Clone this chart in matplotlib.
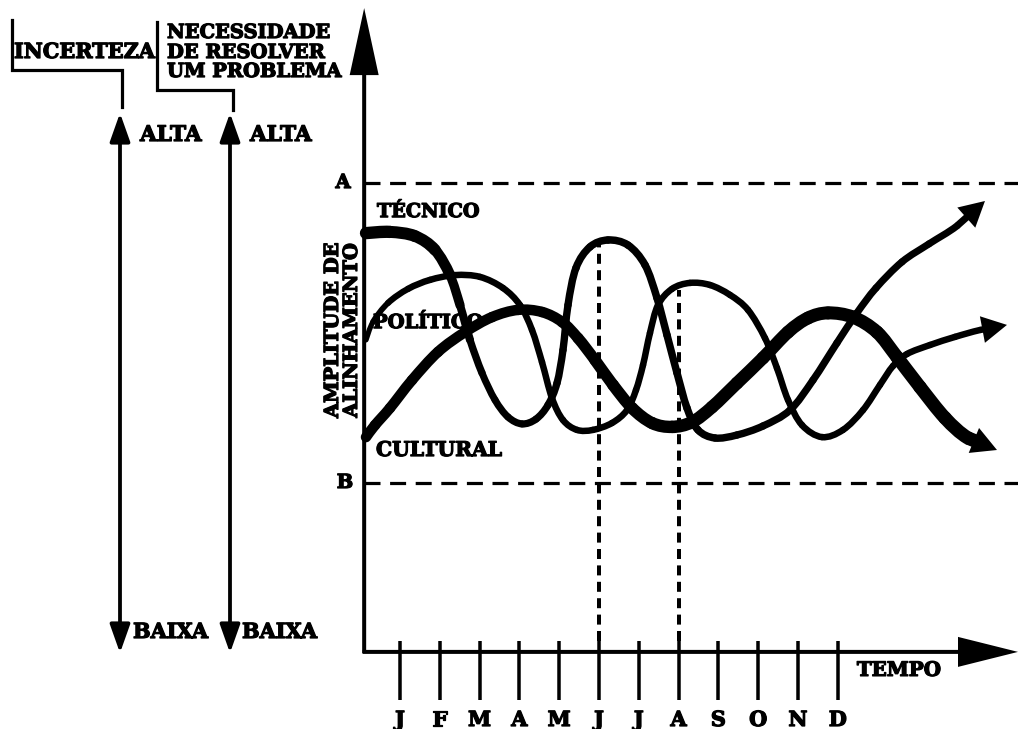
import numpy as np
import matplotlib
matplotlib.use('Agg')
import matplotlib.pyplot as plt
import matplotlib.patheffects as pe
from matplotlib.path import Path
from matplotlib.patches import PathPatch, FancyArrowPatch, ArrowStyle

# ---------------- data (months on x, alignment amplitude on y: B = 0, A = 1) -------------
months = ['J', 'F', 'M', 'A', 'M', 'J', 'J', 'A', 'S', 'O', 'N', 'D']
month_pos = np.arange(1, 13)
level_labels = ['A', 'B']
level_values = [1.0, 0.0]

tecnico_x = [0.146, 0.749, 1.377, 1.879, 2.256, 2.508, 2.759, 3.060, 3.387, 3.714,
             4.065, 4.417, 4.719, 4.945, 5.095, 5.221, 5.422, 5.774, 6.226, 6.729,
             7.156, 7.457, 7.709, 7.960, 8.211, 8.487, 8.915, 9.467, 10.121, 10.799,
             11.377, 11.980, 12.482, 12.960, 13.613, 14.291, 14.995, 15.698]
tecnico_y = [0.833, 0.837, 0.823, 0.777, 0.693, 0.593, 0.477, 0.367, 0.277, 0.220,
             0.197, 0.213, 0.260, 0.333, 0.443, 0.593, 0.717, 0.787, 0.810, 0.793,
             0.727, 0.617, 0.493, 0.367, 0.250, 0.177, 0.150, 0.160, 0.190, 0.243,
             0.343, 0.467, 0.567, 0.650, 0.737, 0.797, 0.857, 0.940]

politico_x = [0.146, 0.322, 0.698, 1.201, 1.754, 2.382, 3.010, 3.588, 4.015, 4.317,
              4.568, 4.819, 5.095, 5.447, 5.849, 6.327, 6.704, 6.930, 7.106, 7.281,
              7.482, 7.834, 8.286, 8.789, 9.291, 9.744, 10.171, 10.472, 10.749, 11.101,
              11.603, 12.131, 12.633, 13.060, 13.387, 13.739, 14.317, 14.945, 15.573, 16.251]
politico_y = [0.477, 0.537, 0.600, 0.647, 0.677, 0.693, 0.687, 0.650, 0.593, 0.510,
              0.403, 0.283, 0.210, 0.177, 0.177, 0.200, 0.243, 0.310, 0.393, 0.500,
              0.593, 0.647, 0.667, 0.660, 0.627, 0.577, 0.483, 0.383, 0.277, 0.193,
              0.153, 0.177, 0.243, 0.327, 0.390, 0.430, 0.460, 0.487, 0.510, 0.527]

cultural_x = [0.146, 0.372, 0.749, 1.302, 1.955, 2.633, 3.312, 3.965, 4.568, 5.070,
              5.472, 5.899, 6.352, 6.829, 7.332, 7.834, 8.337, 8.839, 9.467, 10.121,
              10.749, 11.251, 11.754, 12.382, 12.985, 13.487, 14.065, 14.693, 15.271, 16.000]
cultural_y = [0.153, 0.193, 0.250, 0.343, 0.437, 0.503, 0.553, 0.577, 0.570, 0.537,
              0.483, 0.410, 0.327, 0.250, 0.200, 0.187, 0.203, 0.253, 0.333, 0.417,
              0.503, 0.550, 0.567, 0.553, 0.503, 0.420, 0.320, 0.217, 0.150, 0.110]

series_names = ['TÉCNICO', 'POLÍTICO', 'CULTURAL']
guide_months = [6, 8]          # dashed verticals (June, August)
guide_tops = [0.81, 0.645]

# ---------------- style ----------------
PX = 0.72  # points per pixel at dpi 100
HEAVY = [pe.withStroke(linewidth=0.9, foreground='black')]
FONT = dict(family='DejaVu Serif', fontweight='bold', color='black', path_effects=HEAVY)

fig = plt.figure(figsize=(10.18, 7.29), dpi=100)
fig.patch.set_facecolor('white')
ax = fig.add_axes([0, 0, 1, 1])
ax.set_xlim(-9.050, 16.528)
ax.set_ylim(-0.82, 1.61)
ax.axis('off')

deco = fig.add_axes([0, 0, 1, 1])
deco.set_xlim(0, 1018)
deco.set_ylim(729, 0)
deco.axis('off')

x0, y0 = 0.10, -0.563          # origin of the drawn axes
xend, yend = 16.528, 1.583

# axes as arrows
ax.add_patch(FancyArrowPatch((x0, y0 - 0.004), (x0, yend),
             arrowstyle=ArrowStyle('simple', head_length=67 * PX, head_width=29 * PX, tail_width=4 * PX),
             mutation_scale=1, lw=0, color='black', shrinkA=0, shrinkB=0))
ax.add_patch(FancyArrowPatch((x0 - 0.04, y0), (xend, y0),
             arrowstyle=ArrowStyle('simple', head_length=60 * PX, head_width=30 * PX, tail_width=4 * PX),
             mutation_scale=1, lw=0, color='black', shrinkA=0, shrinkB=0))

# month ticks and labels
ax.vlines(month_pos, -0.527, -0.723, color='black', lw=3.5 * PX)
for m, lab in zip(month_pos, months):
    ax.text(m, -0.79, lab, ha='center', va='center', fontsize=15, **FONT)
ax.text(12.48, -0.623, 'TEMPO', ha='left', va='center', fontsize=14.3, **FONT)

# A / B levels
ax.hlines(level_values, x0, xend, color='black', lw=3.2 * PX, linestyles=(0, (5, 3)))
for lab, v, dx in zip(level_labels, level_values, [-0.43, -0.38]):
    ax.text(dx, v, lab, ha='center', va='center', fontsize=14, **FONT)

# guide verticals
for gm, gt in zip(guide_months, guide_tops):
    ax.vlines(gm, -0.527, gt, color='black', lw=4 * PX, linestyles=(0, (2.5, 1.6)))

# y label
ax.text(-0.683, 0.51, 'AMPLITUDE DE', rotation=90, ha='center', va='center', fontsize=14, **FONT)
ax.text(-0.206, 0.51, 'ALINHAMENTO', rotation=90, ha='center', va='center', fontsize=14, **FONT)


def draw_curve(xs, ys, widths_px, head_len=25, head_w=27):
    P = np.column_stack([xs, ys])
    Pe = np.vstack([P[0], P, P[-1]])
    w = np.asarray(widths_px, float)
    n = len(P)
    for i in range(n - 2):
        p0, p1, p2, p3 = Pe[i], Pe[i + 1], Pe[i + 2], Pe[i + 3]
        c1 = p1 + (p2 - p0) / 6.0
        c2 = p2 - (p3 - p1) / 6.0
        path = Path([p1, c1, c2, p2], [Path.MOVETO, Path.CURVE4, Path.CURVE4, Path.CURVE4])
        ax.add_patch(PathPatch(path, fill=False, edgecolor='black',
                               lw=0.5 * (w[i] + w[i + 1]) * PX, capstyle='round', joinstyle='round'))
    ax.add_patch(FancyArrowPatch(tuple(P[-2]), tuple(P[-1]),
                 arrowstyle=ArrowStyle('simple', head_length=head_len * PX, head_width=head_w * PX,
                                       tail_width=w[-2] * PX),
                 mutation_scale=1, lw=0, color='black', shrinkA=0, shrinkB=0))


def profile(n, anchors_idx, anchors_w):
    return np.interp(np.arange(n), anchors_idx, anchors_w)


n_t = len(tecnico_x)
draw_curve(tecnico_x, tecnico_y, profile(n_t, [0, 3, 5, 7, 17, 24, n_t - 1], [12.5, 11.5, 8.5, 7, 7.5, 7.5, 7]))
n_p = len(politico_x)
draw_curve(politico_x, politico_y, profile(n_p, [0, 3, n_p - 1], [5, 6.5, 6.5]))
n_c = len(cultural_x)
draw_curve(cultural_x, cultural_y, profile(n_c, [0, 8, 15, 22, n_c - 1], [10.5, 10.5, 12.5, 13, 13.5]))

# series labels
ax.text(0.422, 0.903, series_names[0], ha='left', va='center', fontsize=13.8, **FONT)
ax.text(0.322, 0.533, series_names[1], ha='left', va='center', fontsize=14, **FONT)
ax.text(0.397, 0.110, series_names[2], ha='left', va='center', fontsize=14.6, **FONT)

# ---------------- left-hand scales ----------------
deco.plot([12, 12, 122, 122], [20, 70, 70, 107], color='black', lw=3.2 * PX, solid_joinstyle='miter')
deco.text(14, 52, 'INCERTEZA', ha='left', va='center', fontsize=15, **FONT)
deco.plot([157, 157, 233, 233], [22, 90, 90, 110], color='black', lw=3.2 * PX, solid_joinstyle='miter')
for txt, yy in zip(['NECESSIDADE', 'DE RESOLVER', 'UM PROBLEMA'], [33, 53, 72]):
    deco.text(167, yy, txt, ha='left', va='center', fontsize=14, **FONT)

for xa in [120, 230]:
    deco.add_patch(FancyArrowPatch((xa, 113), (xa, 653),
                   arrowstyle=ArrowStyle('<|-|>', head_length=24 * PX, head_width=8.5 * PX),
                   mutation_scale=1, lw=3.8 * PX, color='black', shrinkA=0, shrinkB=0))
for xt in [140, 250]:
    deco.text(xt, 135, 'ALTA', ha='left', va='center', fontsize=15.5, **FONT)
for xt in [133, 242]:
    deco.text(xt, 632, 'BAIXA', ha='left', va='center', fontsize=15, **FONT)

fig.savefig('out.png', dpi=100, facecolor='white')
